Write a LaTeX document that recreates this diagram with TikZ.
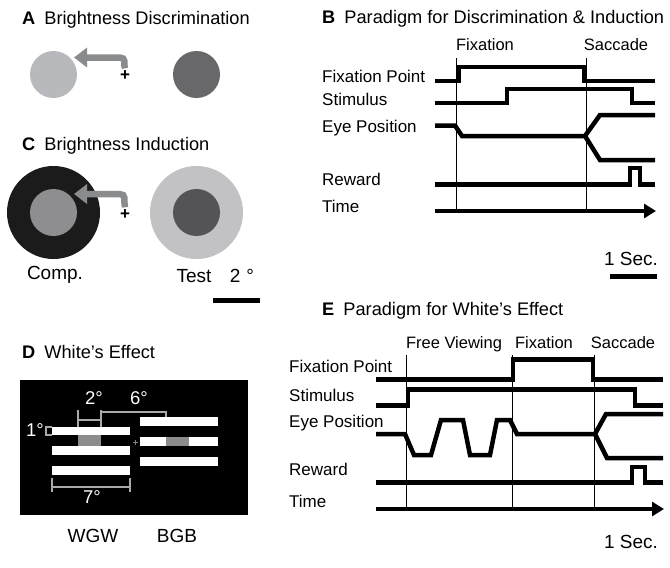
\documentclass[tikz,border=0pt]{standalone}
\usepackage{fontspec}
\setmainfont{Liberation Sans}
\usepackage{tikz}
\usetikzlibrary{arrows.meta}
\definecolor{litegray}{HTML}{B8B9BC}
\definecolor{diskdark}{HTML}{68686B}
\definecolor{midgray}{HTML}{8E8E90}
\definecolor{compblack}{HTML}{1C1B1C}
\definecolor{testgray}{HTML}{C2C2C4}
\definecolor{testdark}{HTML}{545456}
\definecolor{arrowgray}{HTML}{8A8B8D}
\definecolor{dimgray}{HTML}{A9A9A9}
\definecolor{patchgray}{HTML}{8C8C8C}

\begin{document}
\begin{tikzpicture}[x=1pt,y=-1pt]
\tikzset{ttl/.style={anchor=base west,inner sep=0pt,font=\fontsize{18.2}{20}\selectfont},
lbl/.style={anchor=base west,inner sep=0pt,font=\fontsize{17}{20}\selectfont},
hdr/.style={anchor=base,inner sep=0pt,font=\fontsize{16.5}{20}\selectfont},
big/.style={anchor=base,inner sep=0pt,font=\fontsize{19}{22}\selectfont},
deg/.style={inner sep=0pt,text=white,font=\fontsize{18.5}{20}\selectfont},
disk/.style={circle,inner sep=0pt,minimum size=#1},
plus/.style={inner sep=0pt,font=\bfseries\fontsize{17}{17}\selectfont},
trace/.style={line width=4.5pt},
timeax/.style={line width=4.5pt,-{Triangle[length=12pt,width=14pt]}},
vline/.style={line width=0.8pt},
curvy/.style={arrowgray,line width=6.5pt,-{Triangle[length=13pt,width=19pt]}},
dim/.style={dimgray,line width=1.2pt},
scalebar/.style={line width=5pt}}
\useasboundingbox (0,0) rectangle (670,568);

\node[ttl] (ttlA) at (22,24) {\textbf{A}\hspace{0.5em}Brightness Discrimination};
\node[disk=47pt,fill=litegray] (lightA) at (53.5,74.5) {};
\node[disk=47pt,fill=diskdark] (darkA) at (196.5,74.5) {};
\node[plus] (plusA) at (125,75.5) {+};
\coordinate (tipA) at (74,57.5);
\draw[curvy] ([yshift=2pt]plusA.north) -- (124.5,66) .. controls (124.5,57.5) .. (114,57.5) -- (tipA);

\node[ttl] (ttlC) at (22,150) {\textbf{C}\hspace{0.5em}Brightness Induction};
\node[disk=93pt,fill=compblack] (compout) at (53.5,212.5) {};
\node[disk=47pt,fill=midgray] (compin) at (compout) {};
\node[disk=93pt,fill=testgray] (testout) at (196.5,212.5) {};
\node[disk=47pt,fill=testdark] (testin) at (testout) {};
\node[plus] (plusC) at (125,214.5) {+};
\coordinate (tipC) at (74,194);
\draw[curvy] ([yshift=2pt]plusC.north) -- (124.5,203) .. controls (124.5,194) .. (114,194) -- (tipC);
\node[big] (comp) at (55,279) {Comp.};
\node[big] (test) at (194,282) {Test};
\node[big] (degC) at (242,282) {2\hspace{6pt}°};
\draw[scalebar] (213,300) -- (260,300);

\node[ttl] (ttlD) at (22,358) {\textbf{D}\hspace{0.5em}White's Effect};
\fill[black] (20,380) rectangle (248,515);
\foreach \y in {426.5,446,466} \fill[white] (52,\y) rectangle (130,\y+8.5);
\fill[patchgray] (78,435) rectangle (101,446);
\foreach \y in {416.5,437,456.5} \fill[white] (140,\y) rectangle (218,\y+9);
\fill[patchgray] (166,437) rectangle (189,446);
\draw[gray,line width=0.6pt] (132.5,442) -- (137.5,442) (135,439.5) -- (135,444.5);
\draw[dim] (78,410) -- (78,427) (101,410) -- (101,427) (78,420) -- (101,420);
\draw[dim] (101,412) -- (166,412) -- (166,417);
\draw[dim] (52,427) -- (46,427) -- (46,435) -- (52,435);
\draw[dim] (52,478) -- (52,492) (130,478) -- (130,492) (52,487) -- (130,487);
\node[deg] (deg2) at (94,398) {2°};
\node[deg] (deg6) at (139,398) {6°};
\node[deg] (deg1) at (35,430) {1°};
\node[deg] (deg7) at (92,497) {7°};
\node[big] (wgw) at (93,542) {WGW};
\node[big] (bgb) at (177,542) {BGB};

\node[ttl] (ttlB) at (322,23.5) {\textbf{B}\hspace{0.5em}Paradigm for Discrimination \& Induction};
\node[hdr] (fixB) at (485,50) {Fixation};
\node[hdr] (sacB) at (616,50) {Saccade};
\node[lbl] (fpB) at (322,82) {Fixation Point};
\node[lbl] (stB) at (322,105.5) {Stimulus};
\node[lbl] (eyB) at (322,132.5) {Eye Position};
\node[lbl] (rwB) at (322,185) {Reward};
\node[lbl] (tmB) at (322,212) {Time};
\draw[vline] (456,58) -- (456,211) (586,58) -- (586,211);
\draw[trace] (435,81) -- (459,81) -- (459,67) -- (584,67) -- (584,81) -- (655,81);
\draw[trace] (435,103) -- (507,103) -- (507,89) -- (632,89) -- (632,103) -- (655,103);
\draw[trace] (435,125.5) -- (455,125.5) -- (462,136) -- (585,136) -- (600,115) -- (655,115);
\draw[trace] (585,136) -- (600,160) -- (655,160);
\draw[trace] (435,184.5) -- (630,184.5) -- (630,168) -- (640,168) -- (640,184.5) -- (655,184.5);
\draw[timeax] (435,211) -- (656,211);
\node[big] (secB) at (631,265) {1 Sec.};
\draw[scalebar] (610,276) -- (657,276);

\node[ttl] (ttlE) at (322,315) {\textbf{E}\hspace{0.5em}Paradigm for White's Effect};
\node[hdr] (freeE) at (454,348) {Free Viewing};
\node[hdr] (fixE) at (544,348) {Fixation};
\node[hdr] (sacE) at (623,348) {Saccade};
\node[lbl] (fpE) at (289,372) {Fixation Point};
\node[lbl] (stE) at (289,401) {Stimulus};
\node[lbl] (eyE) at (289,427) {Eye Position};
\node[lbl] (rwE) at (289,475) {Reward};
\node[lbl] (tmE) at (289,507) {Time};
\draw[vline] (406,355) -- (406,509) (512,355) -- (512,509) (594,355) -- (594,509);
\draw[trace] (376,379.5) -- (513,379.5) -- (513,359.5) -- (593,359.5) -- (593,379.5) -- (663,379.5);
\draw[trace] (376,405.5) -- (408,405.5) -- (408,389.5) -- (635,389.5) -- (635,405.5) -- (663,405.5);
\draw[trace] (376,434) -- (405,434) -- (414,455) -- (431,455) -- (441,420) -- (463,420) -- (470,455) -- (490,455) -- (497,420) -- (510,420) -- (517,434) -- (595,434) -- (606,414) -- (663,414);
\draw[trace] (595,434) -- (607,458) -- (663,458);
\draw[trace] (376,482.5) -- (632,482.5) -- (632,467) -- (645,467) -- (645,482.5) -- (663,482.5);
\draw[timeax] (376,509) -- (664,509);
\node[big] (secE) at (631,548) {1 Sec.};
\end{tikzpicture}
\end{document}
